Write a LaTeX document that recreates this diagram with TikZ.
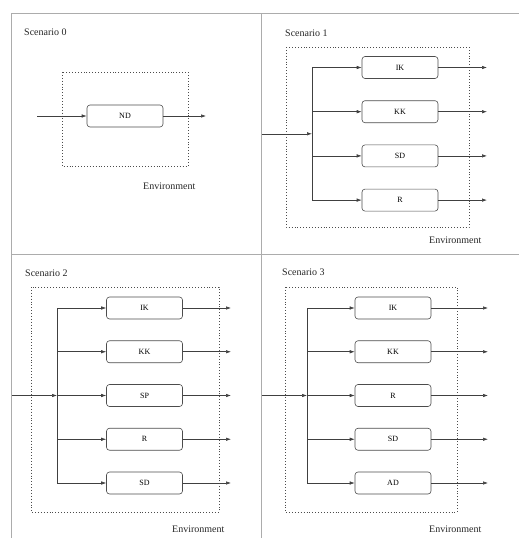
\documentclass[tikz,border=0pt]{standalone}
\usepackage{fontspec}
\setmainfont{Liberation Serif}
\usetikzlibrary{arrows.meta}
\begin{document}
\begin{tikzpicture}[x=1pt,y=-1pt,
 gridline/.style={draw=gray!65, line width=0.9pt},
 envbox/.style={draw=black!70, dotted, line width=0.9pt},
 proc/.style={draw=black!70, rounded corners=3pt, minimum width=76pt, minimum height=22pt, inner sep=0pt, font=\fontsize{8}{9}\selectfont, line width=0.6pt},
 flow/.style={draw=black!75, line width=0.6pt, -{Latex[length=5pt,width=3.5pt]}},
 wire/.style={draw=black!75, line width=0.6pt},
 lbl/.style={font=\fontsize{10}{11}\selectfont, inner sep=0pt, anchor=west, text=black!85},
]
\useasboundingbox (0,0) rectangle (519,538);
% grid
\draw[gridline] (11,538) -- (11,13) -- (519,13);
\draw[gridline] (261.5,13) -- (261.5,538);
\draw[gridline] (11,254) -- (519,254);

% Scenario 0
\node[lbl] (t0) at (24,32) {Scenario 0};
\draw[envbox] (62,72) rectangle (188,166);
\node[proc] (nd) at (125,116) {ND};
\coordinate (in0) at (37,116);
\coordinate (out0) at (206,116);
\draw[flow] (in0) -- (nd);
\draw[flow] (nd) -- (out0);
\node[lbl] (env0) at (143,186) {Environment};

% Scenario 1
\node[lbl] (t1) at (285,33) {Scenario 1};
\draw[envbox] (286,47) rectangle (469,227);
\foreach \i/\t in {1/IK,2/KK,3/SD,4/R}{
  \node[proc] (b1\i) at (400,{67.5+44.2*(\i-1)}) {\t};
}
\coordinate (j1) at (312,133.8);
\coordinate (in1) at (262,133.8);
\coordinate (o1) at (487,0);
\draw[flow] (in1) -- (j1);
\draw[wire] (j1 |- b11.west) -- (j1 |- b14.west);
\foreach \i in {1,...,4}{
  \draw[flow] (j1 |- b1\i.west) -- (b1\i.west);
  \draw[flow] (b1\i.east) -- (b1\i.east -| o1);
}
\node[lbl] (env1) at (429,240) {Environment};

% Scenario 2
\node[lbl] (t2) at (25,273) {Scenario 2};
\draw[envbox] (31,287) rectangle (219,512);
\foreach \i/\t in {1/IK,2/KK,3/SP,4/R,5/SD}{
  \node[proc] (b2\i) at (144.5,{308+43.75*(\i-1)}) {\t};
}
\coordinate (j2) at (57,395.5);
\coordinate (in2) at (12,395.5);
\coordinate (o2) at (231,0);
\draw[flow] (in2) -- (j2);
\draw[wire] (j2 |- b21.west) -- (j2 |- b25.west);
\foreach \i in {1,...,5}{
  \draw[flow] (j2 |- b2\i.west) -- (b2\i.west);
  \draw[flow] (b2\i.east) -- (b2\i.east -| o2);
}
\node[lbl] (env2) at (172,529) {Environment};

% Scenario 3
\node[lbl] (t3) at (282,272) {Scenario 3};
\draw[envbox] (285,287) rectangle (457,512);
\foreach \i/\t in {1/IK,2/KK,3/R,4/SD,5/AD}{
  \node[proc] (b3\i) at (393,{308+43.75*(\i-1)}) {\t};
}
\coordinate (j3) at (307,395.5);
\coordinate (in3) at (262,395.5);
\coordinate (o3) at (488,0);
\draw[flow] (in3) -- (j3);
\draw[wire] (j3 |- b31.west) -- (j3 |- b35.west);
\foreach \i in {1,...,5}{
  \draw[flow] (j3 |- b3\i.west) -- (b3\i.west);
  \draw[flow] (b3\i.east) -- (b3\i.east -| o3);
}
\node[lbl] (env3) at (429,529) {Environment};
\end{tikzpicture}
\end{document}
